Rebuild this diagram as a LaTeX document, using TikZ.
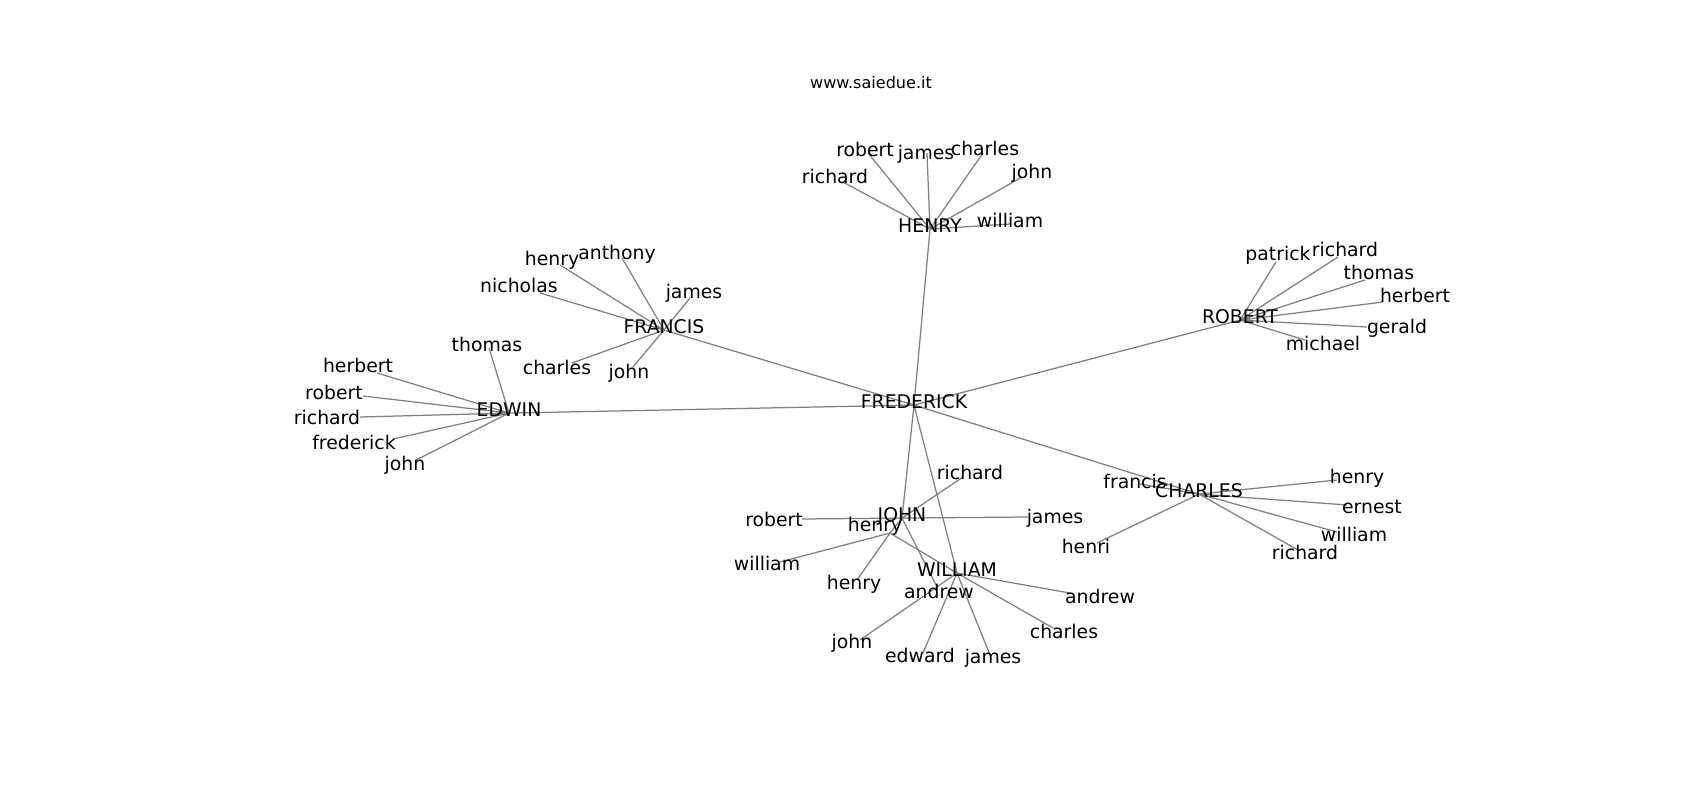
\documentclass[tikz,border=0pt]{standalone}
\usepackage{fontspec}
\setmainfont{DejaVu Sans}
\usetikzlibrary{backgrounds}
\tikzset{
  lbl/.style={inner sep=0pt, yshift=-1.5pt, text height=0.76em, text depth=0.208em, font=\fontsize{13.6}{16}\selectfont},
  link/.style={draw=gray, line width=0.9pt}
}

\begin{document}
\begin{tikzpicture}[x=0.01in, y=-0.01in]
  \useasboundingbox (0,0) rectangle (1700,800);

  % title
  \node[lbl, font=\fontsize{11.6}{14}\selectfont] (site) at (871,83) {www.saiedue.it};

  % FREDERICK and sons
  \node[lbl] (FREDERICK) at (914,403) {FREDERICK};
  \node[lbl] (HENRY) at (930,227) {HENRY};
  \node[lbl] (FRANCIS) at (664,328) {FRANCIS};
  \node[lbl] (EDWIN) at (509,411) {EDWIN};
  \node[lbl] (ROBERT) at (1240,318) {ROBERT};
  \node[lbl] (CHARLES) at (1199,492) {CHARLES};
  \node[lbl] (JOHN) at (902,516) {JOHN};
  \node[lbl] (WILLIAM) at (957,571) {WILLIAM};

  % HENRY
  \coordinate (h-richard) at (843,182);  \node[lbl] (h-richard-t) at (835,178) {richard};
  \coordinate (h-robert) at (868,153);   \node[lbl] (h-robert-t) at (865,151) {robert};
  \coordinate (h-james) at (927,153);    \node[lbl] (h-james-t) at (926,154) {james};
  \coordinate (h-charles) at (983,153);  \node[lbl] (h-charles-t) at (985,150) {charles};
  \coordinate (h-john) at (1022,177);    \node[lbl] (h-john-t) at (1032,173) {john};
  \coordinate (h-william) at (1010,224); \node[lbl] (h-william-t) at (1010,222) {william};

  % FRANCIS
  \coordinate (f-henry) at (560,265);    \node[lbl] (f-henry-t) at (552,260) {henry};
  \coordinate (f-anthony) at (622,258);  \node[lbl] (f-anthony-t) at (617,254) {anthony};
  \coordinate (f-nicholas) at (540,293); \node[lbl] (f-nicholas-t) at (519,287) {nicholas};
  \coordinate (f-james) at (690,298);    \node[lbl] (f-james-t) at (694,293) {james};
  \coordinate (f-charles) at (572,363);  \node[lbl] (f-charles-t) at (557,369) {charles};
  \coordinate (f-john) at (633,367);     \node[lbl] (f-john-t) at (629,373) {john};

  % EDWIN
  \coordinate (e-thomas) at (489,348);    \node[lbl] (e-thomas-t) at (487,346) {thomas};
  \coordinate (e-herbert) at (377,373);   \node[lbl] (e-herbert-t) at (358,367) {herbert};
  \coordinate (e-robert) at (363,396);    \node[lbl] (e-robert-t) at (334,394) {robert};
  \coordinate (e-richard) at (360,417);   \node[lbl] (e-richard-t) at (327,419) {richard};
  \coordinate (e-frederick) at (393,439); \node[lbl] (e-frederick-t) at (354,444) {frederick};
  \coordinate (e-john) at (416,460);      \node[lbl] (e-john-t) at (405,465) {john};

  % ROBERT
  \coordinate (r-patrick) at (1276,262); \node[lbl] (r-patrick-t) at (1278,255) {patrick};
  \coordinate (r-richard) at (1338,257); \node[lbl] (r-richard-t) at (1345,251) {richard};
  \coordinate (r-thomas) at (1365,280);  \node[lbl] (r-thomas-t) at (1379,274) {thomas};
  \coordinate (r-herbert) at (1383,302); \node[lbl] (r-herbert-t) at (1415,297) {herbert};
  \coordinate (r-gerald) at (1367,327);  \node[lbl] (r-gerald-t) at (1397,328) {gerald};
  \coordinate (r-michael) at (1305,340); \node[lbl] (r-michael-t) at (1323,345) {michael};

  % CHARLES
  \coordinate (c-francis) at (1140,484); \node[lbl] (c-francis-t) at (1135,483) {francis};
  \coordinate (c-henri) at (1097,543);   \node[lbl] (c-henri-t) at (1086,548) {henri};
  \coordinate (c-henry) at (1337,480);   \node[lbl] (c-henry-t) at (1357,478) {henry};
  \coordinate (c-ernest) at (1347,505);  \node[lbl] (c-ernest-t) at (1372,508) {ernest};
  \coordinate (c-william) at (1337,532); \node[lbl] (c-william-t) at (1354,536) {william};
  \coordinate (c-richard) at (1298,550); \node[lbl] (c-richard-t) at (1305,554) {richard};

  % JOHN
  \coordinate (j-richard) at (963,477); \node[lbl] (j-richard-t) at (970,474) {richard};
  \coordinate (j-robert) at (802,519);  \node[lbl] (j-robert-t) at (774,521) {robert};
  \coordinate (j-james) at (1028,517);  \node[lbl] (j-james-t) at (1055,518) {james};
  \coordinate (j-andrew) at (937,587);  \node[lbl] (j-andrew-t) at (939,593) {andrew};
  \coordinate (j-henry) at (890,533);   \node[lbl] (j-henry-t) at (875,526) {henry};
  \coordinate (jh-william) at (780,562); \node[lbl] (jh-william-t) at (767,565) {william};
  \coordinate (jh-henry) at (857,580);   \node[lbl] (jh-henry-t) at (854,584) {henry};

  % WILLIAM
  \coordinate (w-andrew) at (1070,593);  \node[lbl] (w-andrew-t) at (1100,598) {andrew};
  \coordinate (w-charles) at (1053,628); \node[lbl] (w-charles-t) at (1064,633) {charles};
  \coordinate (w-james) at (990,655);    \node[lbl] (w-james-t) at (993,658) {james};
  \coordinate (w-edward) at (923,653);   \node[lbl] (w-edward-t) at (920,657) {edward};
  \coordinate (w-john) at (860,640);     \node[lbl] (w-john-t) at (852,643) {john};

  % links, behind the names
  \begin{scope}[on background layer]
    \draw[link] (FREDERICK.center) -- (HENRY.center)
                (FREDERICK.center) -- (FRANCIS.center)
                (FREDERICK.center) -- (EDWIN.center)
                (FREDERICK.center) -- (ROBERT.center)
                (FREDERICK.center) -- (CHARLES.center)
                (FREDERICK.center) -- (JOHN.center)
                (FREDERICK.center) -- (WILLIAM.center);
    \draw[link] (HENRY.center) -- (h-richard) (HENRY.center) -- (h-robert)
                (HENRY.center) -- (h-james) (HENRY.center) -- (h-charles)
                (HENRY.center) -- (h-john) (HENRY.center) -- (h-william);
    \draw[link] (FRANCIS.center) -- (f-henry) (FRANCIS.center) -- (f-anthony)
                (FRANCIS.center) -- (f-nicholas) (FRANCIS.center) -- (f-james)
                (FRANCIS.center) -- (f-charles) (FRANCIS.center) -- (f-john);
    \draw[link] (EDWIN.center) -- (e-thomas) (EDWIN.center) -- (e-herbert)
                (EDWIN.center) -- (e-robert) (EDWIN.center) -- (e-richard)
                (EDWIN.center) -- (e-frederick) (EDWIN.center) -- (e-john);
    \draw[link] (ROBERT.center) -- (r-patrick) (ROBERT.center) -- (r-richard)
                (ROBERT.center) -- (r-thomas) (ROBERT.center) -- (r-herbert)
                (ROBERT.center) -- (r-gerald) (ROBERT.center) -- (r-michael);
    \draw[link] (CHARLES.center) -- (c-francis) (CHARLES.center) -- (c-henri)
                (CHARLES.center) -- (c-henry) (CHARLES.center) -- (c-ernest)
                (CHARLES.center) -- (c-william) (CHARLES.center) -- (c-richard);
    \draw[link] (JOHN.center) -- (j-richard) (JOHN.center) -- (j-robert)
                (JOHN.center) -- (j-james) (JOHN.center) -- (j-andrew)
                (JOHN.center) -- (j-henry);
    \draw[link] (j-henry) -- (jh-william) (j-henry) -- (jh-henry)
                (j-henry) -- (WILLIAM.center);
    \draw[link] (WILLIAM.center) -- (w-andrew) (WILLIAM.center) -- (w-charles)
                (WILLIAM.center) -- (w-james) (WILLIAM.center) -- (w-edward)
                (WILLIAM.center) -- (w-john);
  \end{scope}
\end{tikzpicture}
\end{document}
